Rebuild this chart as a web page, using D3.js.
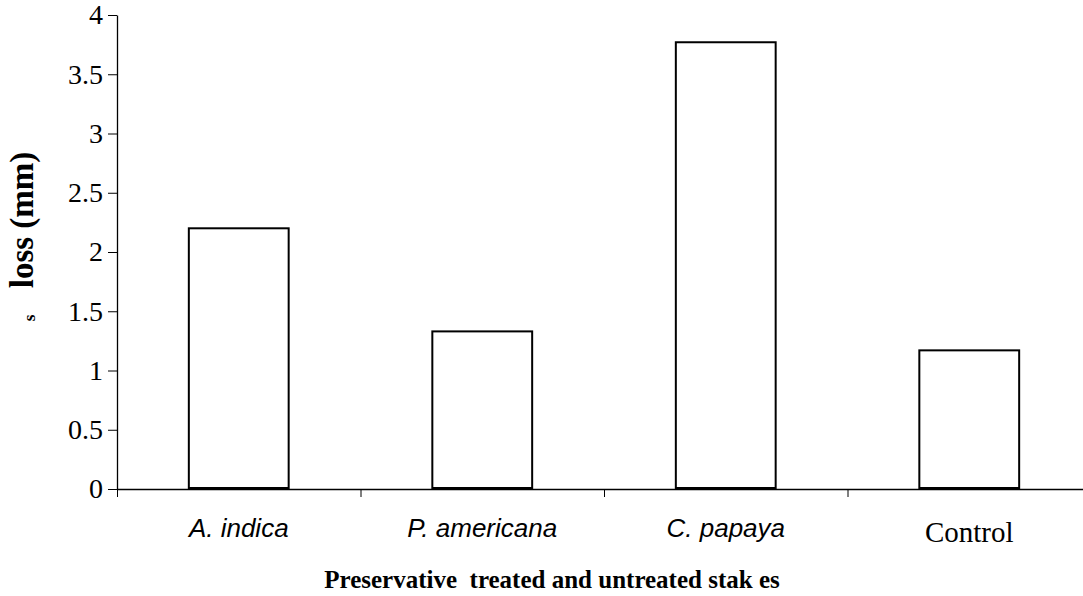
<!DOCTYPE html>
<html><head><meta charset="utf-8">
<script src="https://cdn.jsdelivr.net/npm/d3@7"></script>
<style>body{margin:0;background:#fff}svg{display:block}</style>
</head><body>
<script>
const categories = ["A. indica", "P. americana", "C. papaya", "Control"];
const italicCats = [true, true, true, false];
const values = [2.2, 1.33, 3.77, 1.17];
const yTicks = [0, 0.5, 1, 1.5, 2, 2.5, 3, 3.5, 4];
const yTickLabels = ["0", "0.5", "1", "1.5", "2", "2.5", "3", "3.5", "4"];

const W = 1083, H = 596;
const svg = d3.select("body").append("svg").attr("width", W).attr("height", H);
const x0 = 117, x1 = 1091, yTop = 15, yBot = 489;
const x = d3.scaleBand().domain(categories).range([x0, x1]).paddingInner(0.59).paddingOuter(0.295);
const xb = d3.scaleBand().domain(categories).range([x0, x1]);
const y = d3.scaleLinear().domain([0, 4]).range([yBot, yTop]);

// bars
svg.selectAll("rect.bar").data(values).enter().append("rect")
  .attr("x", (d, i) => x(categories[i]))
  .attr("y", d => y(d))
  .attr("width", x.bandwidth())
  .attr("height", d => yBot - 1 - y(d))
  .attr("fill", "#fff").attr("stroke", "#000").attr("stroke-width", 2);

// y axis
const ya = svg.append("g").attr("transform", `translate(${x0},0)`)
  .call(d3.axisLeft(y).tickValues(yTicks).tickFormat((d, i) => yTickLabels[i]).tickSize(9).tickSizeOuter(0).tickPadding(5));
ya.attr("font-family", "Liberation Serif").attr("font-size", 28);
ya.select(".domain").attr("stroke", "#000").attr("stroke-width", 1.3);
ya.selectAll(".tick line").attr("stroke", "#000");
ya.selectAll("text").attr("fill", "#000");

// x axis
svg.append("line").attr("x1", x0).attr("x2", W).attr("y1", yBot + 0.5).attr("y2", yBot + 0.5).attr("stroke", "#000").attr("stroke-width", 1.3);
const bounds = categories.slice(1).map(c => xb(c));
svg.selectAll("line.xt").data([x0].concat(bounds)).enter().append("line")
  .attr("x1", d => d + 0.5).attr("x2", d => d + 0.5).attr("y1", yBot).attr("y2", yBot + 8)
  .attr("stroke", "#000");
svg.selectAll("text.xl").data(categories).enter().append("text")
  .attr("x", d => xb(d) + xb.bandwidth() / 2)
  .attr("y", (d, i) => italicCats[i] ? 537 : 542)
  .attr("text-anchor", "middle")
  .attr("font-family", (d, i) => italicCats[i] ? "Liberation Sans" : "Liberation Serif")
  .attr("font-style", (d, i) => italicCats[i] ? "italic" : "normal")
  .attr("font-size", (d, i) => italicCats[i] ? 26 : 29)
  .text(d => d);

// titles
svg.append("text").attr("x", 552).attr("y", 588).attr("text-anchor", "middle")
  .attr("font-family", "Liberation Serif").attr("font-weight", "bold").attr("font-size", 25)
  .style("white-space", "pre")
  .text("Preservative  treated and untreated stak es");
svg.append("text").attr("transform", "translate(33,220) rotate(-90)").attr("text-anchor", "middle")
  .attr("font-family", "Liberation Serif").attr("font-weight", "bold").attr("font-size", 33)
  .text("loss (mm)");
svg.append("text").attr("transform", "translate(35,318) rotate(-90)").attr("text-anchor", "middle")
  .attr("font-family", "Liberation Serif").attr("font-weight", "bold").attr("font-size", 17)
  .text("s");
</script>
</body></html>
